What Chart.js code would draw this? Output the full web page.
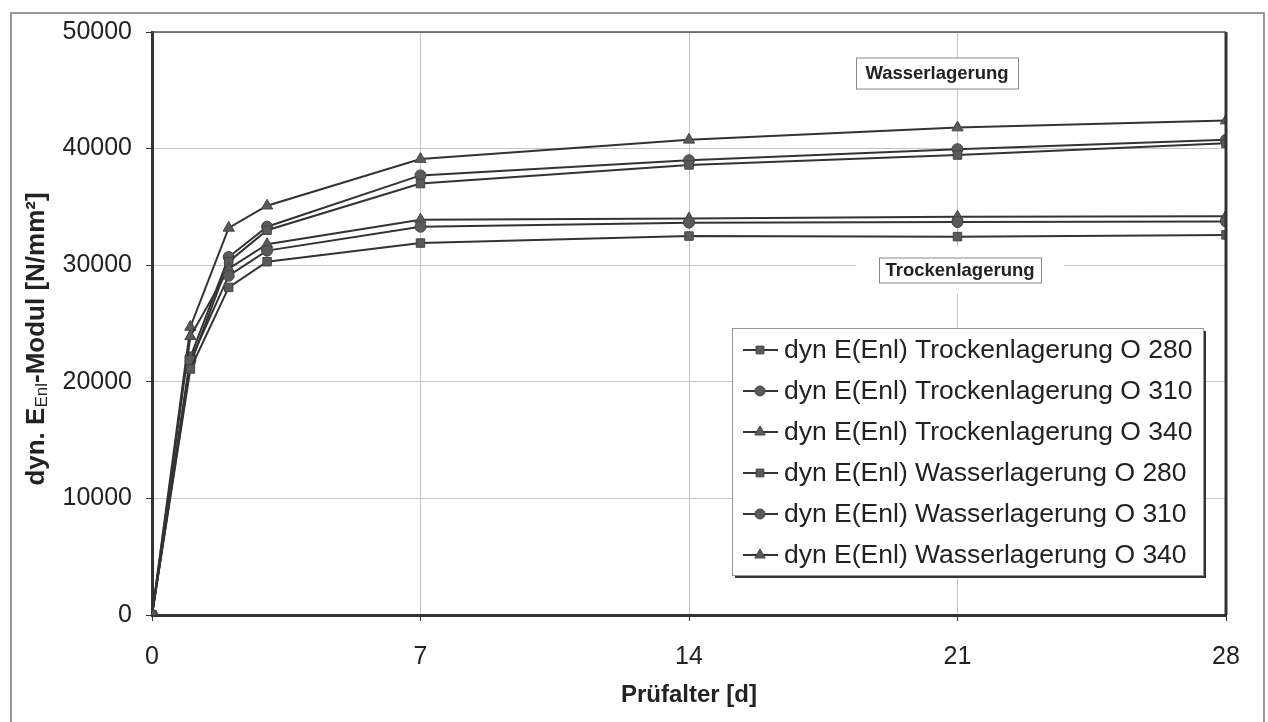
<!DOCTYPE html>
<html>
<head>
<meta charset="utf-8">
<script src="https://cdn.jsdelivr.net/npm/chart.js@4"></script>
<style>
  html, body { margin: 0; padding: 0; background: #fff; }
  #wrap { width: 1268px; height: 722px; position: relative; }
</style>
</head>
<body>
<div id="wrap"><canvas id="c" width="1268" height="722"></canvas></div>
<script>
(function () {
  "use strict";

  // ── Data ────────────────────────────────────────

  var days = [0, 1, 2, 3, 7, 14, 21, 28];
  var xTicks = [0, 7, 14, 21, 28];

  var trocken280 = [0, 21100, 28100, 30300, 31900, 32500, 32450, 32600];
  var trocken310 = [0, 21800, 29100, 31250, 33300, 33650, 33700, 33750];
  var trocken340 = [0, 23900, 29700, 31800, 33900, 34000, 34150, 34200];
  var wasser280 = [0, 21500, 30300, 33000, 37000, 38600, 39450, 40450];
  var wasser310 = [0, 22100, 30700, 33300, 37700, 39000, 39950, 40750];
  var wasser340 = [0, 24700, 33200, 35100, 39100, 40750, 41800, 42400];

  var seriesNames = [
    "dyn E(Enl) Trockenlagerung O 280",
    "dyn E(Enl) Trockenlagerung O 310",
    "dyn E(Enl) Trockenlagerung O 340",
    "dyn E(Enl) Wasserlagerung O 280",
    "dyn E(Enl) Wasserlagerung O 310",
    "dyn E(Enl) Wasserlagerung O 340"
  ];
  var seriesValues = [trocken280, trocken310, trocken340, wasser280, wasser310, wasser340];
  var seriesMarkers = ["rect", "circle", "triangle", "rect", "circle", "triangle"];
  var markerSize = { rect: 6, circle: 5.5, triangle: 6.5 };

  var FONT = "'Liberation Sans', Arial, sans-serif";
  Chart.defaults.font.family = FONT;
  Chart.defaults.color = "#222";
  Chart.defaults.animation = false;

  function pairs(vals) {
    return vals.map(function (v, i) { return { x: days[i], y: v }; });
  }

  var datasets = seriesValues.map(function (vals, i) {
    var m = seriesMarkers[i];
    return {
      label: seriesNames[i],
      data: pairs(vals),
      borderColor: "#333",
      borderWidth: 2,
      pointStyle: m,
      pointRadius: markerSize[m],
      pointBackgroundColor: "#5a5a5a",
      pointBorderColor: "#444",
      pointBorderWidth: 1,
      tension: 0
    };
  });

  // ── Plugins: frame, borders, labels, legend, y title ──

  var frame = {
    id: "frame",
    beforeDraw: function (chart) {
      var ctx = chart.ctx;
      ctx.save();
      ctx.fillStyle = "#fff";
      ctx.fillRect(0, 0, chart.width, chart.height);
      ctx.strokeStyle = "#777";
      ctx.lineWidth = 1.5;
      ctx.strokeRect(11, 13, 1253, 720);
      ctx.restore();
    },
    afterDatasetsDraw: function (chart) {
      var a = chart.chartArea, ctx = chart.ctx;
      ctx.save();
      ctx.strokeStyle = "#333";
      ctx.lineWidth = 3;
      ctx.beginPath();
      ctx.moveTo(a.right, a.top);
      ctx.lineTo(a.right, a.bottom);
      ctx.stroke();
      ctx.lineWidth = 1.5;
      ctx.strokeStyle = "#555";
      ctx.beginPath();
      ctx.moveTo(a.left, a.top);
      ctx.lineTo(a.right, a.top);
      ctx.stroke();
      ctx.restore();
    }
  };

  function boxLabel(ctx, text, cx, cy, w, h, clearW, clearH) {
    ctx.fillStyle = "#fff";
    ctx.fillRect(cx - clearW / 2, cy - clearH / 2, clearW, clearH);
    ctx.strokeStyle = "#888";
    ctx.lineWidth = 1;
    ctx.strokeRect(cx - w / 2 + 0.5, cy - h / 2 + 0.5, w, h);
    ctx.fillStyle = "#222";
    ctx.font = "bold 18.5px " + FONT;
    ctx.textAlign = "center";
    ctx.textBaseline = "middle";
    ctx.fillText(text, cx, cy + 1);
  }

  var notes = {
    id: "notes",
    beforeDatasetsDraw: function (chart) {
      var ctx = chart.ctx;
      ctx.save();
      boxLabel(ctx, "Wasserlagerung", 937, 73, 162, 31, 162, 31);
      boxLabel(ctx, "Trockenlagerung", 960, 270, 162, 25, 208, 48);
      ctx.restore();
    }
  };

  var legendBox = {
    id: "legendBox",
    afterDraw: function (chart) {
      var ctx = chart.ctx;
      var x = 732, y = 328, w = 471, h = 247;
      ctx.save();
      ctx.fillStyle = "#333";
      ctx.fillRect(x + 3, y + 3, w, h);
      ctx.fillStyle = "#fff";
      ctx.fillRect(x, y, w, h);
      ctx.strokeStyle = "#999";
      ctx.lineWidth = 1;
      ctx.strokeRect(x + 0.5, y + 0.5, w, h);
      ctx.font = "26.5px " + FONT;
      ctx.textAlign = "left";
      ctx.textBaseline = "middle";
      chart.data.datasets.forEach(function (ds, i) {
        var ry = y + 22 + i * 41;
        ctx.strokeStyle = ds.borderColor;
        ctx.lineWidth = 2;
        ctx.beginPath();
        ctx.moveTo(x + 11, ry);
        ctx.lineTo(x + 46, ry);
        ctx.stroke();
        ctx.fillStyle = ds.pointBackgroundColor;
        ctx.strokeStyle = ds.pointBorderColor;
        ctx.lineWidth = 1;
        Chart.helpers.drawPoint(ctx, { pointStyle: ds.pointStyle, radius: ds.pointRadius - 0.5, borderWidth: 1, rotation: 0 }, x + 28, ry);
        ctx.fillStyle = "#222";
        ctx.fillText(ds.label, x + 52, ry + 1);
      });
      ctx.restore();
    }
  };

  var yTitle = {
    id: "yTitle",
    afterDraw: function (chart) {
      var ctx = chart.ctx;
      var parts = [
        { t: "dyn. E", f: "bold 26px " + FONT, dy: 0 },
        { t: "Enl", f: "17px " + FONT, dy: 5 },
        { t: "-Modul [N/mm\u00B2]", f: "bold 26px " + FONT, dy: 0 }
      ];
      ctx.save();
      var total = 0;
      parts.forEach(function (p) { ctx.font = p.f; p.w = ctx.measureText(p.t).width; total += p.w; });
      ctx.translate(37, 339);
      ctx.rotate(-Math.PI / 2);
      ctx.fillStyle = "#222";
      ctx.textBaseline = "middle";
      ctx.textAlign = "left";
      var cx = -total / 2;
      parts.forEach(function (p) {
        ctx.font = p.f;
        ctx.fillText(p.t, cx, p.dy);
        cx += p.w;
      });
      ctx.restore();
    }
  };

  function plain(v) { return String(v); }

  // ── Chart ───────────────────────────────────────

  new Chart(document.getElementById("c"), {
    type: "line",
    data: { datasets: datasets },
    plugins: [frame, notes, legendBox, yTitle],
    options: {
      responsive: false,
      animation: false,
      layout: { padding: { top: 32, right: 42, left: 0, bottom: 0 } },
      plugins: { legend: { display: false }, tooltip: { enabled: false } },
      scales: {
        x: {
          type: "linear",
          min: 0, max: 28,
          afterFit: function (s) { s.height = 107; },
          afterBuildTicks: function (s) { s.ticks = xTicks.map(function (v) { return { value: v }; }); },
          grid: { color: "#c4c4c4", lineWidth: 1, tickLength: 6, tickColor: "#333" },
          border: { color: "#333", width: 3 },
          ticks: { font: { size: 25 }, padding: 21, color: "#222", callback: plain },
          title: { display: true, text: "Pr\u00FCfalter [d]", font: { size: 24, weight: "bold" }, color: "#222", padding: { top: 0, bottom: 12 } }
        },
        y: {
          min: 0, max: 50000,
          afterFit: function (s) { s.width = 152; },
          grid: { color: "#c4c4c4", lineWidth: 1, tickLength: 6, tickColor: "#333" },
          border: { color: "#333", width: 3 },
          ticks: { stepSize: 10000, font: { size: 25 }, padding: 14, color: "#222", callback: plain }
        }
      }
    }
  });
})();
</script>
</body>
</html>
